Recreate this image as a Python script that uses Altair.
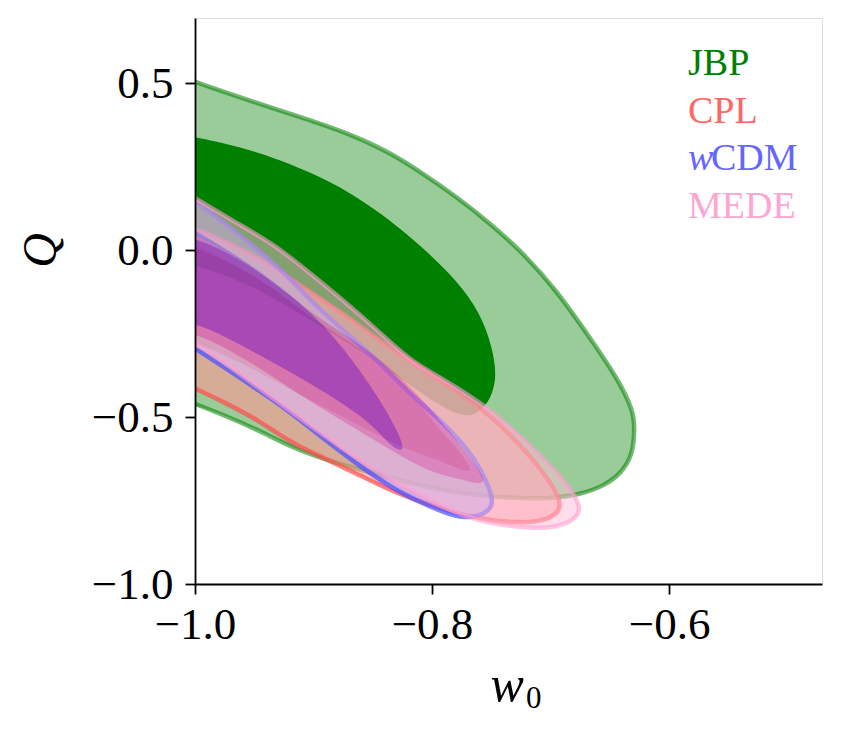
import altair as alt
import pandas as pd

# ---------------- data ----------------
JBP_OUT_X = [-1.0, -0.948, -0.884, -0.858, -0.835, -0.808, -0.779, -0.751, -0.723, -0.695, -0.667, -0.644,
             -0.630, -0.629, -0.631, -0.640, -0.654, -0.675, -0.700, -0.732, -0.787, -0.844, -0.893, -0.918,
             -0.946, -0.975, -1.0]
JBP_OUT_Y = [0.505, 0.441, 0.369, 0.330, 0.291, 0.231, 0.159, 0.081, -0.009, -0.120, -0.261, -0.381,
             -0.480, -0.540, -0.615, -0.666, -0.705, -0.732, -0.744, -0.744, -0.726, -0.675, -0.624, -0.591,
             -0.540, -0.495, -0.460]
JBP_IN_X = [-1.0, -0.948, -0.892, -0.863, -0.835, -0.808, -0.779, -0.759, -0.749, -0.745, -0.751, -0.759,
            -0.770, -0.793, -0.835, -0.892, -0.948, -1.0]
JBP_IN_Y = [0.339, 0.300, 0.219, 0.159, 0.090, 0.009, -0.090, -0.189, -0.291, -0.381, -0.450, -0.480,
            -0.504, -0.471, -0.360, -0.231, -0.111, -0.039]

CPL_OUT_X = [-1.0, -0.948, -0.903, -0.875, -0.833, -0.793, -0.751, -0.717, -0.698, -0.690, -0.696, -0.709,
             -0.726, -0.751, -0.779, -0.808, -0.835, -0.864, -0.892, -0.918, -0.946, -0.975, -1.0]
CPL_OUT_Y = [0.066, -0.015, -0.126, -0.189, -0.300, -0.390, -0.489, -0.615, -0.705, -0.765, -0.795, -0.813,
             -0.816, -0.810, -0.789, -0.756, -0.720, -0.669, -0.621, -0.579, -0.510, -0.456, -0.414]
CPL_IN_X = [-1.0, -0.948, -0.903, -0.875, -0.846, -0.819, -0.799, -0.779, -0.766, -0.770, -0.799, -0.827,
            -0.869, -0.911, -0.948, -1.0]
CPL_IN_Y = [0.015, -0.075, -0.201, -0.261, -0.330, -0.411, -0.519, -0.591, -0.657, -0.668, -0.621, -0.591,
            -0.510, -0.435, -0.360, -0.270]

WCDM_OUT_X = [-1.0, -0.975, -0.946, -0.918, -0.903, -0.875, -0.846, -0.819, -0.799, -0.770, -0.757, -0.751,
              -0.748, -0.755, -0.768, -0.779, -0.808, -0.835, -0.864, -0.893, -0.918, -0.946, -0.975, -1.0]
WCDM_OUT_Y = [0.147, 0.081, 0.0, -0.090, -0.150, -0.240, -0.330, -0.429, -0.489, -0.591, -0.669, -0.720,
              -0.762, -0.790, -0.800, -0.801, -0.759, -0.711, -0.639, -0.561, -0.489, -0.420, -0.351, -0.294]
WCDM_IN_X = [-1.0, -0.948, -0.892, -0.850, -0.829, -0.822, -0.835, -0.850, -0.892, -0.948, -1.0]
WCDM_IN_Y = [0.060, -0.051, -0.210, -0.411, -0.540, -0.608, -0.590, -0.519, -0.420, -0.309, -0.210]

MEDE_OUT_X = [-1.0, -0.966, -0.932, -0.903, -0.875, -0.846, -0.819, -0.793, -0.751, -0.717, -0.692, -0.679,
              -0.674, -0.682, -0.696, -0.717, -0.743, -0.768, -0.793, -0.827, -0.861, -0.895, -0.920, -0.946,
              -0.975, -1.0]
MEDE_OUT_Y = [0.156, 0.084, 0.015, -0.069, -0.150, -0.240, -0.330, -0.381, -0.474, -0.585, -0.675, -0.735,
              -0.782, -0.812, -0.830, -0.833, -0.822, -0.804, -0.765, -0.705, -0.630, -0.546, -0.480, -0.414,
              -0.336, -0.279]
MEDE_IN_X = [-1.0, -0.948, -0.903, -0.875, -0.846, -0.819, -0.793, -0.772, -0.759, -0.755, -0.762, -0.770,
             -0.799, -0.827, -0.869, -0.911, -0.948, -1.0]
MEDE_IN_Y = [0.045, -0.054, -0.186, -0.249, -0.321, -0.405, -0.510, -0.600, -0.666, -0.694, -0.700, -0.690,
             -0.669, -0.615, -0.525, -0.435, -0.345, -0.240]

MODELS = ["JBP", "CPL", "wCDM", "MEDE"]
TEXT_COLORS = ["#008000", "#ff6666", "#6666ff", "#ffa5d2"]
X_TICKS = [-1.0, -0.8, -0.6]
Y_TICKS = [-1.0, -0.5, 0.0, 0.5]
EDGE = -1.03  # closing edge, just outside the left border of the plot

CONTOURS = {
    "JBP": (JBP_OUT_X, JBP_OUT_Y, JBP_IN_X, JBP_IN_Y),
    "CPL": (CPL_OUT_X, CPL_OUT_Y, CPL_IN_X, CPL_IN_Y),
    "wCDM": (WCDM_OUT_X, WCDM_OUT_Y, WCDM_IN_X, WCDM_IN_Y),
    "MEDE": (MEDE_OUT_X, MEDE_OUT_Y, MEDE_IN_X, MEDE_IN_Y),
}

# styles: (outer band fill, alpha, inner fill, alpha, line colour, line alpha)
STYLE = {
    "JBP": ("#008000", 0.4, "#008000", 1.0, "#008000", 0.55),
    "CPL": ("#ff9696", 0.6, "#ff0000", 0.5, "#ff4d4d", 0.7),
    "wCDM": ("#9696ff", 0.5, "#0000ff", 0.6, "#4d4dff", 0.7),
    "MEDE": ("#ffbed7", 0.52, "#ff69b4", 0.5, "#ff9fd0", 0.6),
}

rows = []


def add(key, xs, ys):
    for i, (a, b) in enumerate(zip(xs, ys)):
        rows.append({"key": key, "i": i, "x": a, "y": b})


for m in MODELS:
    ox, oy, ix, iy = CONTOURS[m]
    # outer band (region between the two contours), closed outside the left border
    bx = list(ox) + [EDGE, EDGE] + list(reversed(ix)) + [EDGE, EDGE]
    by = list(oy) + [oy[-1], iy[-1]] + list(reversed(iy)) + [iy[0], oy[0]]
    add(m + "_band", bx, by)
    add(m + "_in", list(ix) + [EDGE, EDGE], list(iy) + [iy[-1], iy[0]])
    add(m + "_line", ox, oy)
df = pd.DataFrame(rows)

FONT = "Liberation Serif"
W, H = 627, 566

xscale = alt.Scale(domain=[-1.0, -0.471], nice=False, zero=False)
yscale = alt.Scale(domain=[-1.0, 0.696], nice=False, zero=False)

xaxis = alt.Axis(values=X_TICKS, format=".1f", grid=False, title="w", titleFont=FONT,
                 titleFontStyle="italic", titleFontWeight="normal", titleFontSize=50,
                 titleAlign="left", titleAnchor="start", titleX=295, titleY=116,
                 titleBaseline="alphabetic", titleColor="black",
                 labelFont=FONT, labelFontSize=45, labelColor="black", labelPadding=8,
                 labelFlush=False, tickSize=10, tickWidth=1.8, tickColor="black",
                 domainColor="black", domainWidth=1.8, zindex=1)
yaxis = alt.Axis(values=Y_TICKS, format=".1f", grid=False, title="Q", titleFont=FONT,
                 titleFontStyle="italic", titleFontWeight="normal", titleFontSize=48,
                 titleAngle=270, titleAlign="center", titleX=-140, titleY=232,
                 titleBaseline="alphabetic", titleColor="black",
                 labelFont=FONT, labelFontSize=45, labelColor="black", labelPadding=12,
                 labelFlush=False, tickSize=10, tickWidth=1.8, tickColor="black",
                 domainColor="black", domainWidth=1.8, zindex=1)

X = alt.X("x:Q", scale=xscale, axis=xaxis)
Y = alt.Y("y:Q", scale=yscale, axis=yaxis)

base = alt.Chart(df)
layers = []
for m in MODELS:
    ofc, oal, ifc, ial, lc, lal = STYLE[m]
    layers.append(base.transform_filter(alt.datum.key == m + "_band").mark_line(
        interpolate="basis", fill=ofc, fillOpacity=oal, strokeOpacity=0, strokeWidth=0,
        clip=True).encode(x=X, y=Y, order=alt.Order("i:Q")))
    layers.append(base.transform_filter(alt.datum.key == m + "_in").mark_line(
        interpolate="basis", fill=ifc, fillOpacity=ial, strokeOpacity=0, strokeWidth=0,
        clip=True).encode(x=X, y=Y, order=alt.Order("i:Q")))
    layers.append(base.transform_filter(alt.datum.key == m + "_line").mark_line(
        interpolate="basis", color=lc, strokeOpacity=lal, strokeWidth=4.5,
        clip=True).encode(x=X, y=Y, order=alt.Order("i:Q")))

# legend texts (one row each)
LEG_X = 493
LEG_Y = [57, 105, 152, 200]
leg_parts = []
for k, m in enumerate(MODELS):
    if m == "wCDM":
        leg_parts.append(("w", "italic", LEG_X, LEG_Y[k], TEXT_COLORS[k]))
        leg_parts.append(("CDM", "normal", LEG_X + 23, LEG_Y[k], TEXT_COLORS[k]))
    else:
        leg_parts.append((m, "normal", LEG_X, LEG_Y[k], TEXT_COLORS[k]))

for txt, style, px, py, col in leg_parts:
    layers.append(alt.Chart(pd.DataFrame({"label": [txt]})).mark_text(
        font=FONT, fontStyle=style, fontSize=38, align="left", baseline="alphabetic",
        color=col).encode(text="label:N", x=alt.value(px), y=alt.value(py)))

# subscript of the x title
layers.append(alt.Chart(pd.DataFrame({"label": ["0"]})).mark_text(
    font=FONT, fontSize=31, align="left", baseline="alphabetic", color="black").encode(
    text="label:N", x=alt.value(331), y=alt.value(690)))

chart = alt.layer(*layers).properties(
    width=W, height=H, autosize="none",
    padding={"left": 187, "top": 10, "right": 12, "bottom": 149},
).configure_view(stroke="black", strokeWidth=1.8).configure(background="white")

chart.save("out.html", embed_options={"renderer": "svg", "actions": False})
